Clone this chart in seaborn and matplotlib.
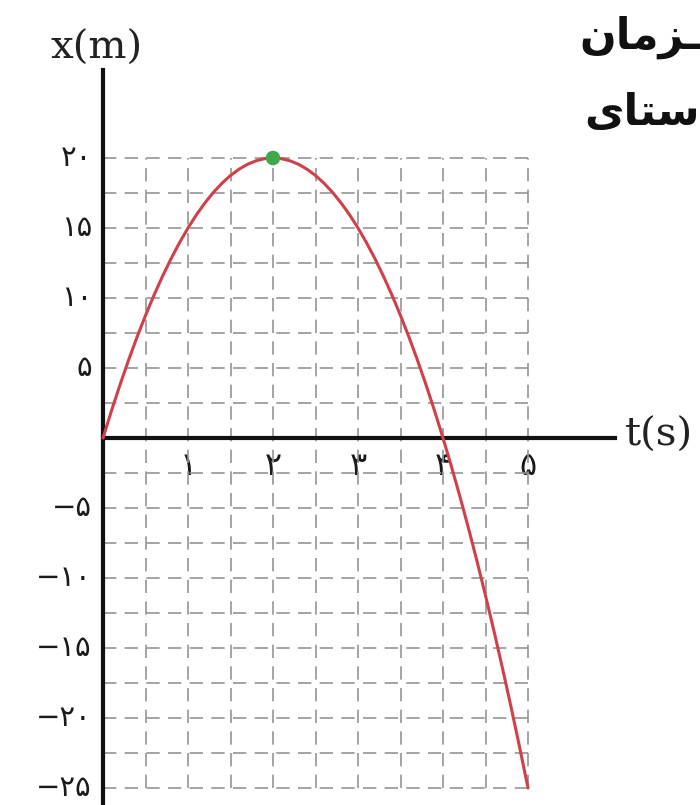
import numpy as np
import matplotlib
matplotlib.use("Agg")
import matplotlib.pyplot as plt
import seaborn as sns

# ---------------- data ----------------
t_values = [0.0, 0.1, 0.2, 0.3, 0.4, 0.5, 0.6, 0.7, 0.8, 0.9,
            1.0, 1.1, 1.2, 1.3, 1.4, 1.5, 1.6, 1.7, 1.8, 1.9,
            2.0, 2.1, 2.2, 2.3, 2.4, 2.5, 2.6, 2.7, 2.8, 2.9,
            3.0, 3.1, 3.2, 3.3, 3.4, 3.5, 3.6, 3.7, 3.8, 3.9,
            4.0, 4.1, 4.2, 4.3, 4.4, 4.5, 4.6, 4.7, 4.8, 4.9, 5.0]
x_values = [0.0, 1.95, 3.8, 5.55, 7.2, 8.75, 10.2, 11.55, 12.8, 13.95,
            15.0, 15.95, 16.8, 17.55, 18.2, 18.75, 19.2, 19.55, 19.8, 19.95,
            20.0, 19.95, 19.8, 19.55, 19.2, 18.75, 18.2, 17.55, 16.8, 15.95,
            15.0, 13.95, 12.8, 11.55, 10.2, 8.75, 7.2, 5.55, 3.8, 1.95,
            0.0, -2.05, -4.2, -6.45, -8.8, -11.25, -13.8, -16.45, -19.2, -22.05, -25.0]
peak_t = [2.0]
peak_x = [20.0]

xtick_values = [1, 2, 3, 4, 5]
xtick_labels = ["۱", "۲", "۳", "۴", "۵"]
xminor_values = [0.5, 1.5, 2.5, 3.5, 4.5]
ytick_values = [20, 15, 10, 5, -5, -10, -15, -20, -25]
ytick_labels = ["۲۰", "۱۵", "۱۰", "۵", "−۵", "−۱۰", "−۱۵", "−۲۰", "−۲۵"]
grid_t = [0.5, 1.0, 1.5, 2.0, 2.5, 3.0, 3.5, 4.0, 4.5, 5.0]
grid_x = [20, 17.5, 15, 12.5, 10, 7.5, 5, 2.5, -2.5, -5, -7.5, -10,
          -12.5, -15, -17.5, -20, -22.5, -25]
x_label = "x(m)"
t_label = "t(s)"
# fragments of the surrounding Persian text ("ـزمان" and "ستای"),
# written with Arabic presentation forms in visual order
side_text_1 = "ﻥﺎﻣﺰـ"
side_text_2 = "ﻯﺎﺘﺳ"

# ---------------- style ----------------
sns.set_style("white")
plt.rcParams["font.family"] = ["DejaVu Sans"]

W, H = 700, 805
fig = plt.figure(figsize=(W / 100, H / 100), dpi=100)
ax = fig.add_axes([0, 0, 1, 1])

# pixel geometry: t=0 at px 103, 85 px per s ; x=0 at px 438, 14 px per m
px_t0, px_per_s = 103, 85.0
px_x0, px_per_m = 438, 14.0
ax.set_xlim(-px_t0 / px_per_s, (W - px_t0) / px_per_s)
ax.set_ylim(-(H - px_x0) / px_per_m, px_x0 / px_per_m)

grid_kw = dict(colors="#959595", linewidth=1.2, linestyles=(0, (8, 5)), zorder=1)
ax.vlines(grid_t, min(grid_x), max(grid_x), **grid_kw)
ax.hlines(grid_x, 0, max(grid_t), **grid_kw)

sns.lineplot(x=t_values, y=x_values, ax=ax, color="#d0404a", linewidth=2.2,
             sort=False, zorder=4)
sns.scatterplot(x=peak_t, y=peak_x, ax=ax, color="#3fa94a", s=110,
                edgecolor="none", zorder=5)

# axes as spines through the origin
for s in ["top", "right"]:
    ax.spines[s].set_visible(False)
for s in ["left", "bottom"]:
    ax.spines[s].set_position(("data", 0))
    ax.spines[s].set_linewidth(3.0)
    ax.spines[s].set_color("#111111")
    ax.spines[s].set_zorder(3)
ax.spines["left"].set_bounds(ax.get_ylim()[0], (px_x0 - 70) / px_per_m)
ax.spines["bottom"].set_bounds(0, (615 - px_t0) / px_per_s)

ax.set_xticks(xtick_values)
ax.set_xticklabels(xtick_labels, fontsize=23)
ax.set_xticks(xminor_values, minor=True)
ax.tick_params(axis="x", which="both", direction="inout", length=16, width=1.6,
               color="#222222", pad=1)
ax.set_yticks(ytick_values)
ax.set_yticklabels(ytick_labels, fontsize=21, va="center")
ax.tick_params(axis="y", length=0, pad=8)
for lab in ax.get_xticklabels() + ax.get_yticklabels():
    lab.set_color("#1a1a1a")

ax.set_xlabel("")
ax.set_ylabel("")
ax.grid(False)

ax.text((97 - px_t0) / px_per_s, (px_x0 - 48) / px_per_m, x_label,
        family="DejaVu Serif", fontsize=29, ha="center", va="center", color="#222222")
ax.text((659 - px_t0) / px_per_s, (px_x0 - 435) / px_per_m, t_label,
        family="DejaVu Serif", fontsize=29, ha="center", va="center", color="#222222")

fig.text(1.0, 1 - 37 / H, side_text_1, family="DejaVu Sans", weight="bold",
         fontsize=31, ha="right", va="center", color="#111111")
fig.text(1.0, 1 - 113 / H, side_text_2, family="DejaVu Sans", weight="bold",
         fontsize=31, ha="right", va="center", color="#111111")

fig.savefig("out.png", dpi=100)
